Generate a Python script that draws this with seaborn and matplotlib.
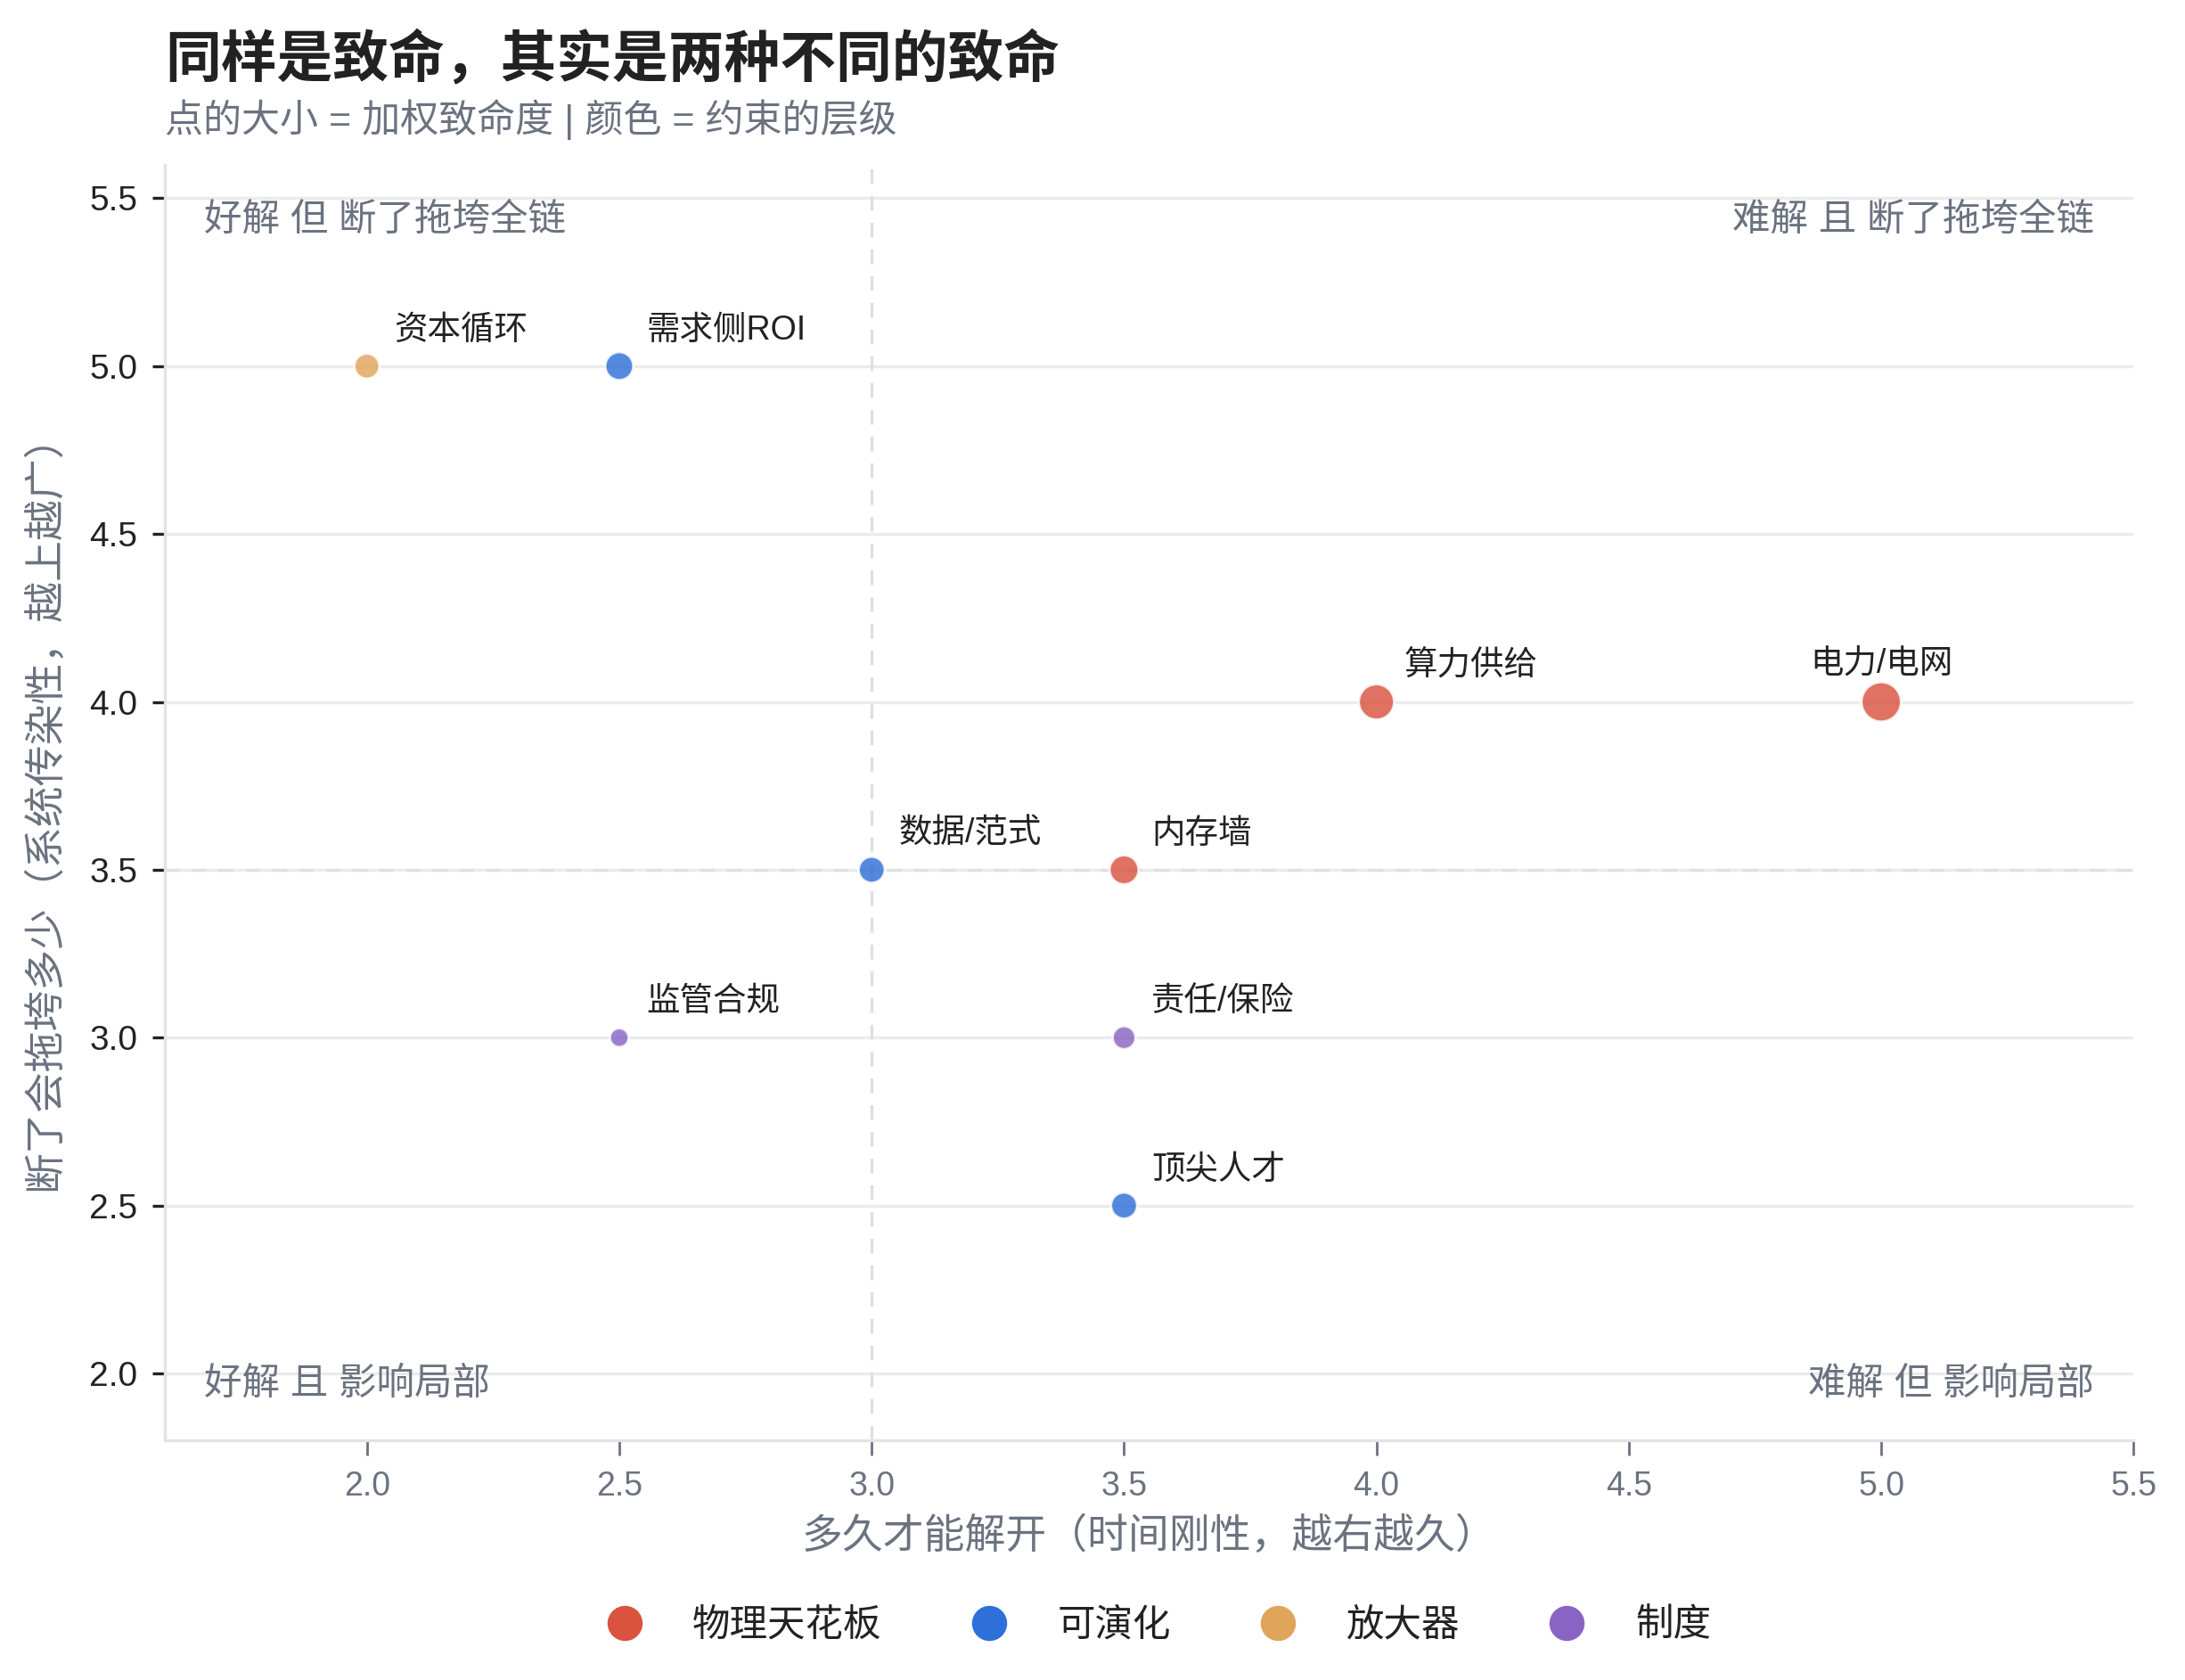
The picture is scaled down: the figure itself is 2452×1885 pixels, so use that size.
import pandas as pd
import numpy as np
import matplotlib.pyplot as plt
import seaborn as sns
from matplotlib.lines import Line2D

# data
names = ['资本循环', '需求侧ROI', '算力供给', '电力/电网', '数据/范式', '内存墙', '监管合规', '责任/保险', '顶尖人才']
time_rigidity = [2.0, 2.5, 4.0, 5.0, 3.0, 3.5, 2.5, 3.5, 3.5]
contagion = [5.0, 5.0, 4.0, 4.0, 3.5, 3.5, 3.0, 3.0, 2.5]
lethality = [4.1, 5.0, 7.7, 9.5, 4.4, 5.35, 2.5, 3.5, 4.4]
level = ['放大器', '可演化', '物理天花板', '物理天花板', '可演化', '物理天花板', '制度', '制度', '可演化']

levels = ['物理天花板', '可演化', '放大器', '制度']
level_colors = ['#d9533f', '#2f6fd9', '#e0a45a', '#8a64c4']

x_ticks = [2.0, 2.5, 3.0, 3.5, 4.0, 4.5, 5.0, 5.5]
y_ticks = [2.0, 2.5, 3.0, 3.5, 4.0, 4.5, 5.0, 5.5]

df = pd.DataFrame({'name': names, 'x': time_rigidity, 'y': contagion,
                   'w': lethality, 'level': level})

sns.set_theme(style='white')
plt.rcParams['font.family'] = ['Liberation Sans', 'Noto Sans CJK SC', 'DejaVu Sans']
plt.rcParams['axes.unicode_minus'] = False

fig = plt.figure(figsize=(12.26, 9.425), dpi=200)
ax = fig.add_axes([0.0755, 0.1425, 0.901, 0.7595])

ax.axvline(3.0, color='#e0e0e0', lw=1.2, ls=(0, (5, 4)), zorder=1)
ax.axhline(3.5, color='#e0e0e0', lw=1.2, ls=(0, (5, 4)), zorder=1)

sns.scatterplot(data=df, x='x', y='y', hue='level', hue_order=levels,
                palette=level_colors, size='w', sizes=(58, 255),
                size_norm=(2.5, 9.5), alpha=0.82, edgecolor='white',
                linewidth=1, legend=False, ax=ax, zorder=3)

for _, r in df.iterrows():
    if r['x'] >= 5.0:
        ax.annotate(r['name'], (r['x'], r['y']), xytext=(0, 9),
                    textcoords='offset points', ha='center', va='bottom',
                    fontsize=13.5, color='#222222')
    else:
        ax.annotate(r['name'], (r['x'], r['y']), xytext=(11, 8),
                    textcoords='offset points', ha='left', va='bottom',
                    fontsize=13.5, color='#222222')

qcol = '#6b7280'
ax.text(0.02, 0.97, '好解 但 断了拖垮全链', transform=ax.transAxes, ha='left', va='top', fontsize=15.3, color=qcol)
ax.text(0.98, 0.97, '难解 且 断了拖垮全链', transform=ax.transAxes, ha='right', va='top', fontsize=15.3, color=qcol)
ax.text(0.02, 0.03, '好解 且 影响局部', transform=ax.transAxes, ha='left', va='bottom', fontsize=15.3, color=qcol)
ax.text(0.98, 0.03, '难解 但 影响局部', transform=ax.transAxes, ha='right', va='bottom', fontsize=15.3, color=qcol)

ax.set_xlim(1.6, 5.5)
ax.set_ylim(1.8, 5.6)
ax.set_xticks(x_ticks)
ax.set_yticks(y_ticks)
ax.set_xticklabels([f'{t:.1f}' for t in x_ticks])
ax.set_yticklabels([f'{t:.1f}' for t in y_ticks])
ax.yaxis.grid(True, color='#ebebeb', lw=1.2)
ax.xaxis.grid(False)
ax.set_axisbelow(True)

sns.despine(ax=ax, top=True, right=True)
for s in ['left', 'bottom']:
    ax.spines[s].set_color('#e3e3e3')
    ax.spines[s].set_linewidth(1.2)

ax.tick_params(axis='x', colors=qcol, labelsize=13.5, length=6, width=1, direction='out', pad=6, bottom=True)
ax.tick_params(axis='y', colors='#222222', labelsize=14, length=5, width=1.2, direction='out', pad=6, left=True)

ax.set_xlabel('多久才能解开（时间刚性，越右越久）', fontsize=16.5, color=qcol, labelpad=6)
ax.set_ylabel('断了会拖垮多少（系统传染性，越上越广）', fontsize=16.5, color=qcol, labelpad=10)

fig.text(0.0755, 0.9645, '同样是致命，其实是两种不同的致命', ha='left', va='center',
         fontsize=22.6, fontweight='bold', color='#222222')
fig.text(0.0755, 0.929, '点的大小 = 加权致命度 | 颜色 = 约束的层级', ha='left', va='center',
         fontsize=15.5, color=qcol)

handles = [Line2D([0], [0], marker='o', ls='', markersize=15, markerfacecolor=c,
                  markeredgecolor='white', markeredgewidth=0.8) for c in level_colors]
fig.legend(handles, levels, loc='center', bbox_to_anchor=(0.530, 0.032), ncol=4,
           frameon=False, fontsize=15.3, handlelength=1, handletextpad=1.3,
           columnspacing=2.33, labelcolor='#222222')

fig.savefig('out.png', dpi=200)
